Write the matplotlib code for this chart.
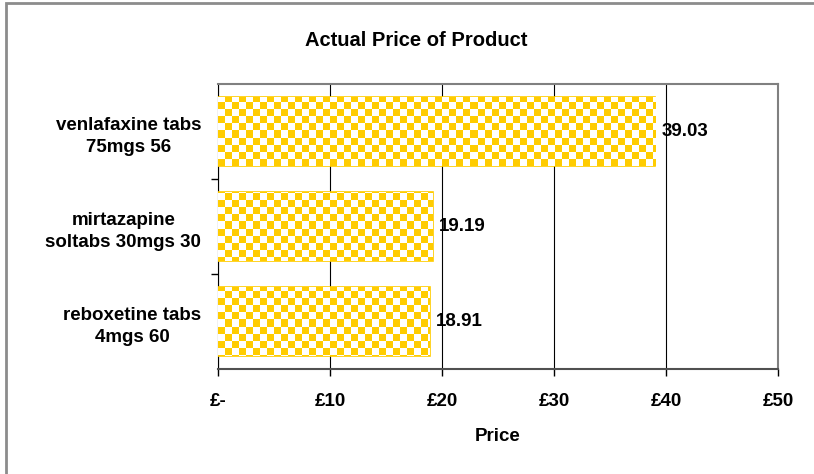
import numpy as np
import matplotlib.pyplot as plt
from matplotlib.patches import Rectangle
from matplotlib.colors import ListedColormap

products = ['venlafaxine tabs\n75mgs 56', 'mirtazapine\nsoltabs 30mgs 30', 'reboxetine tabs\n4mgs 60']
prices = [39.03, 19.19, 18.91]
xticks = [0, 10, 20, 30, 40, 50]
xlabels = ['£-', '£10', '£20', '£30', '£40', '£50']

plt.rcParams['font.family'] = ['Liberation Sans', 'DejaVu Sans']
plt.rcParams['font.weight'] = 'bold'
fs = 13.5

fig = plt.figure(figsize=(8.14, 4.74), dpi=100, facecolor='white')
ax = fig.add_axes([218/814, 1-369/474, 560/814, 285/474])
ax.set_axisbelow(True)

yellow = '#FFCC00'
ypos = np.arange(len(products))
bars = ax.barh(ypos, prices, height=0.73, color='white', edgecolor=yellow, linewidth=1.2, zorder=3)

# checkerboard fill, clipped to each bar
sq = 7.0
nx = int(560 / sq) + 1
ny = int(285 / sq) + 1
checker = (np.add.outer(np.arange(ny), np.arange(nx)) % 2).astype(float)
cmap = ListedColormap(['white', yellow])
for b in bars:
    im = ax.imshow(checker, cmap=cmap, interpolation='nearest', aspect='auto',
                   extent=[0, nx * sq / 560 * 50, len(products) - 0.5, len(products) - 0.5 - ny * sq / 285 * 3],
                   zorder=3.5)
    im.set_clip_path(b)
ax.set_xlim(0, 50)
ax.set_ylim(len(products) - 0.5, -0.5)

for b, v in zip(bars, prices):
    ax.annotate(f'{v:.2f}', (v, b.get_y() + b.get_height() / 2), xytext=(4.5, 0),
                textcoords='offset points', va='center', ha='left',
                fontsize=fs, fontweight='bold', zorder=5)

ax.set_xticks(xticks)
ax.set_xticklabels(xlabels, fontsize=fs, fontweight='bold')
ax.tick_params(axis='x', direction='out', length=5, width=1, pad=12, color='black')
ax.grid(axis='x', color='black', linewidth=0.8)

ax.set_yticks(ypos)
ax.set_yticklabels(products, fontsize=fs, fontweight='bold', multialignment='center',
                   linespacing=1.45)
ax.tick_params(axis='y', which='major', length=0, pad=12)
ax.set_yticks([0.5, 1.5], minor=True)
ax.tick_params(axis='y', which='minor', direction='out', length=5, width=1, color='black')

ax.set_xlabel('Price', fontsize=fs, fontweight='bold', labelpad=13)

for s in ['top', 'right']:
    ax.spines[s].set_color('#808080')
    ax.spines[s].set_linewidth(1.5)
ax.spines['left'].set_color('black')
ax.spines['bottom'].set_color('#505050')
ax.spines['bottom'].set_linewidth(1.5)

fig.text(416/814, 1-40/474, 'Actual Price of Product', ha='center', va='center',
         fontsize=14.5, fontweight='bold')

fig.patches.append(Rectangle((6/814, -0.5), 2, 1 - 2.5/474 + 0.5, transform=fig.transFigure,
                             fill=False, edgecolor='#8c8c8c', linewidth=2, figure=fig))

fig.savefig('out.png', dpi=100, facecolor='white')
